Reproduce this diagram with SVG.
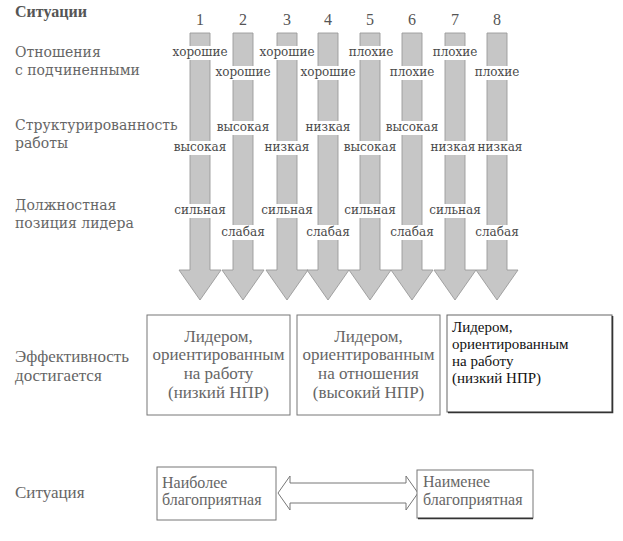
<svg xmlns="http://www.w3.org/2000/svg" width="623" height="541" viewBox="0 0 623 541">
<style>
.lab{font-family:"DejaVu Serif",serif;font-size:14px;fill:#666}
.head{font-family:"Liberation Serif",serif;font-size:16px;font-weight:bold;fill:#555}
.num{font-family:"Liberation Serif",serif;font-size:16px;fill:#555;text-anchor:middle}
.bl{font-family:"DejaVu Serif",serif;font-size:12px;fill:#4a4a4a;text-anchor:middle}
.bg{fill:#fff}
.arr{fill:#c6c6c6;stroke:#9a9a9a;stroke-width:0.9}
.tl{font-family:"Liberation Serif",serif;font-size:17px;fill:#666}
.bx{fill:#fff;stroke:#777;stroke-width:1}
.bt{font-family:"Liberation Serif",serif;font-size:17px;fill:#666;text-anchor:middle}
.bt3{font-family:"Liberation Serif",serif;font-size:15px;fill:#111}
.st{font-family:"Liberation Serif",serif;font-size:16px;fill:#666}
</style>

<g id="row-labels">
<text class="head" x="15" y="17">Ситуации</text>
<text class="lab" x="15" y="57">Отношения</text>
<text class="lab" x="15" y="75">с подчиненными</text>
<text class="lab" x="15" y="130">Структурированность</text>
<text class="lab" x="15" y="148">работы</text>
<text class="lab" x="15" y="210">Должностная</text>
<text class="lab" x="15" y="228">позиция лидера</text>
<text class="tl" x="15" y="362">Эффективность</text>
<text class="tl" x="15" y="381">достигается</text>
<text class="tl" x="15" y="498">Ситуация</text>
</g>

<g id="numbers">
<text class="num" x="200" y="25">1</text>
<text class="num" x="243" y="25">2</text>
<text class="num" x="287" y="25">3</text>
<text class="num" x="328" y="25">4</text>
<text class="num" x="370" y="25">5</text>
<text class="num" x="412" y="25">6</text>
<text class="num" x="455" y="25">7</text>
<text class="num" x="497" y="25">8</text>
</g>

<g id="connectors">
<path id="arrow-1" class="arr" d="M190,33H210V270H221L200,300L179,270H190Z"/>
<path id="arrow-2" class="arr" d="M233,33H253V270H264L243,300L222,270H233Z"/>
<path id="arrow-3" class="arr" d="M277,33H297V270H308L287,300L266,270H277Z"/>
<path id="arrow-4" class="arr" d="M318,33H338V270H349L328,300L307,270H318Z"/>
<path id="arrow-5" class="arr" d="M360,33H380V270H391L370,300L349,270H360Z"/>
<path id="arrow-6" class="arr" d="M402,33H422V270H433L412,300L391,270H402Z"/>
<path id="arrow-7" class="arr" d="M445,33H465V270H476L455,300L434,270H445Z"/>
<path id="arrow-8" class="arr" d="M487,33H507V270H518L497,300L476,270H487Z"/>
<path id="double-arrow" fill="#fff" stroke="#777" stroke-width="1" d="M278,493L290,476V483H406V476L418,493L406,510V503H290V510Z"/>
</g>

<g id="bar-labels">
<rect class="bg" x="171" y="46" width="58" height="14"/><text class="bl" x="200" y="56">хорошие</text>
<rect class="bg" x="258" y="46" width="58" height="14"/><text class="bl" x="287" y="56">хорошие</text>
<rect class="bg" x="346" y="46" width="50" height="14"/><text class="bl" x="371" y="56">плохие</text>
<rect class="bg" x="430" y="46" width="50" height="14"/><text class="bl" x="455" y="56">плохие</text>

<rect class="bg" x="214" y="66" width="58" height="14"/><text class="bl" x="243" y="76">хорошие</text>
<rect class="bg" x="299" y="66" width="58" height="14"/><text class="bl" x="328" y="76">хорошие</text>
<rect class="bg" x="387" y="66" width="50" height="14"/><text class="bl" x="412" y="76">плохие</text>
<rect class="bg" x="472" y="66" width="50" height="14"/><text class="bl" x="497" y="76">плохие</text>

<rect class="bg" x="214" y="121" width="58" height="14"/><text class="bl" x="243" y="131">высокая</text>
<rect class="bg" x="305" y="121" width="46" height="14"/><text class="bl" x="328" y="131">низкая</text>
<rect class="bg" x="383" y="121" width="58" height="14"/><text class="bl" x="412" y="131">высокая</text>

<rect class="bg" x="171" y="141" width="58" height="14"/><text class="bl" x="200" y="151">высокая</text>
<rect class="bg" x="264" y="141" width="46" height="14"/><text class="bl" x="287" y="151">низкая</text>
<rect class="bg" x="341" y="141" width="58" height="14"/><text class="bl" x="370" y="151">высокая</text>
<rect class="bg" x="431" y="141" width="46" height="14"/><text class="bl" x="453" y="151">низкая</text>
<rect class="bg" x="477" y="141" width="46" height="14"/><text class="bl" x="500" y="151">низкая</text>

<rect class="bg" x="172" y="204" width="56" height="14"/><text class="bl" x="200" y="214">сильная</text>
<rect class="bg" x="259" y="204" width="56" height="14"/><text class="bl" x="287" y="214">сильная</text>
<rect class="bg" x="342" y="204" width="56" height="14"/><text class="bl" x="370" y="214">сильная</text>
<rect class="bg" x="427" y="204" width="56" height="14"/><text class="bl" x="455" y="214">сильная</text>

<rect class="bg" x="220" y="225" width="46" height="15"/><text class="bl" x="243" y="236">слабая</text>
<rect class="bg" x="305" y="225" width="46" height="15"/><text class="bl" x="328" y="236">слабая</text>
<rect class="bg" x="389" y="225" width="46" height="15"/><text class="bl" x="412" y="236">слабая</text>
<rect class="bg" x="474" y="225" width="46" height="15"/><text class="bl" x="497" y="236">слабая</text>
</g>

<g id="box-task-1">
<rect class="bx" x="147" y="315" width="143" height="100"/>
<text class="bt" x="218.5" y="342">Лидером,</text>
<text class="bt" x="218.5" y="360">ориентированным</text>
<text class="bt" x="218.5" y="379">на работу</text>
<text class="bt" x="218.5" y="398">(низкий НПР)</text>
</g>

<g id="box-relations">
<rect class="bx" x="297" y="315" width="143" height="100"/>
<text class="bt" x="368.5" y="342">Лидером,</text>
<text class="bt" x="368.5" y="360">ориентированным</text>
<text class="bt" x="368.5" y="379">на отношения</text>
<text class="bt" x="368.5" y="398">(высокий НПР)</text>
</g>

<g id="box-task-2">
<rect x="447" y="315" width="165" height="97" fill="#fff" stroke="#666" stroke-width="1"/>
<path d="M448,412.5H612.5V316" fill="none" stroke="#333" stroke-width="1.6"/>
<text class="bt3" x="452" y="332">Лидером,</text>
<text class="bt3" x="452" y="349">ориентированным</text>
<text class="bt3" x="452" y="366">на работу</text>
<text class="bt3" x="452" y="383">(низкий НПР)</text>
</g>

<g id="box-most">
<rect class="bx" x="157" y="467" width="119" height="53"/>
<text class="st" x="162" y="488">Наиболее</text>
<text class="st" x="162" y="505">благоприятная</text>
</g>

<g id="box-least">
<rect class="bx" x="417" y="470" width="116" height="48"/>
<path d="M418,518.5H533" stroke="#333" stroke-width="1.6"/>
<text class="st" x="423" y="487">Наименее</text>
<text class="st" x="423" y="505">благоприятная</text>
</g>
</svg>
